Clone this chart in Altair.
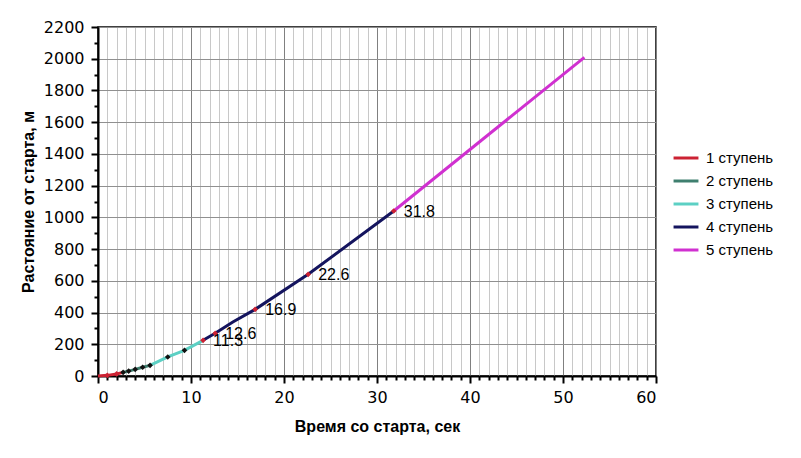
import altair as alt
import pandas as pd

stages = ["1 ступень", "2 ступень", "3 ступень", "4 ступень", "5 ступень"]
colors = ["#CC2233", "#3F7F6F", "#5CD0C4", "#14145E", "#D030D0"]

t1 = [0, 1.0, 2.0, 2.7]
d1 = [0, 4, 13, 23]
t2 = [2.7, 3.3, 4.0, 4.8, 5.6]
d2 = [23, 31, 42, 55, 67]
t3 = [5.6, 7.5, 9.3, 11.3]
d3 = [67, 120, 162, 225]
t4 = [11.3, 12.6, 14.5, 16.9, 22.6, 31.8]
d4 = [225, 269, 340, 420, 641, 1040]
t5 = [31.8, 52.3]
d5 = [1040, 2009]

# markers
m_t = [1.0, 2.0, 2.7, 3.3, 4.0, 4.8, 5.6, 7.5, 9.3, 11.3, 12.6, 16.9, 22.6, 31.8]
m_d = [4, 13, 23, 31, 42, 55, 67, 120, 162, 225, 269, 420, 641, 1040]
m_c = ["#CC2233", "#CC2233", "#111111", "#111111", "#111111", "#111111", "#111111",
       "#111111", "#111111", "#CC2233", "#CC2233", "#CC2233", "#CC2233", "#CC2233"]

lab_t = [11.3, 12.6, 16.9, 22.6, 31.8]
lab_d = [225, 269, 420, 641, 1040]
lab_txt = ["11.3", "12.6", "16.9", "22.6", "31.8"]

x_all = list(range(0, 61, 1))
y_all = list(range(0, 2201, 100))

rows = []
for s, ts, ds in zip(stages, [t1, t2, t3, t4, t5], [d1, d2, d3, d4, d5]):
    for i, (t, d) in enumerate(zip(ts, ds)):
        rows.append({"stage": s, "t": t, "d": d, "o": i})
lines_df = pd.DataFrame(rows)
marks_df = pd.DataFrame({"t": m_t, "d": m_d, "c": m_c})
labels_df = pd.DataFrame({"t": lab_t, "d": lab_d, "txt": lab_txt})

FONT = "Liberation Sans"
TICKFONT = "DejaVu Sans"

xscale = alt.Scale(domain=[0, 60], nice=False)
yscale = alt.Scale(domain=[0, 2200], nice=False)

xaxis = alt.Axis(
    values=x_all,
    labelExpr="datum.value % 10 === 0 ? datum.label : ''",
    labelOverlap=False,
    title="Время со старта, сек",
    titleFont=FONT, titleFontSize=16, titleFontWeight="bold", titleColor="#000",
    titlePadding=13,
    labelFont=TICKFONT, labelFontSize=16, labelColor="#000", labelPadding=6,
    domainColor="#000", domainWidth=2,
    tickColor="#000", tickWidth=2,
    tickSize={"condition": {"test": "datum.value % 10 === 0", "value": 7}, "value": 4},
    gridColor={"condition": {"test": "datum.value % 10 === 0", "value": "#808080"}, "value": "#C8C8C8"},
    gridWidth=1,
)
yaxis = alt.Axis(
    values=y_all,
    labelExpr="datum.value % 200 === 0 ? datum.label : ''",
    labelOverlap=False,
    format="d",
    title="Растояние от старта, м",
    titleFont=FONT, titleFontSize=16, titleFontWeight="bold", titleColor="#000",
    titlePadding=7,
    labelFont=TICKFONT, labelFontSize=16, labelColor="#000", labelPadding=7,
    domainColor="#000", domainWidth=2,
    tickColor="#000", tickWidth=2,
    tickSize={"condition": {"test": "datum.value % 200 === 0", "value": 7}, "value": 4},
    gridColor="#909090",
    gridOpacity={"condition": {"test": "datum.value % 200 === 0", "value": 1}, "value": 0},
    gridWidth=1,
)

X = alt.X("t:Q", scale=xscale, axis=xaxis)
Y = alt.Y("d:Q", scale=yscale, axis=yaxis)

lines = alt.Chart(lines_df).mark_line(strokeWidth=3).encode(
    x=X,
    y=Y,
    color=alt.Color(
        "stage:N",
        scale=alt.Scale(domain=stages, range=colors),
        legend=alt.Legend(
            title=None, orient="none", legendX=574, legendY=117,
            symbolType="stroke", symbolSize=620, symbolStrokeWidth=3,
            labelFont=FONT, labelFontSize=15, labelColor="#000",
            rowPadding=1, labelOffset=6,
        ),
    ),
    order="o:Q",
    detail="stage:N",
)

points = alt.Chart(marks_df).mark_point(shape="diamond", filled=True, size=32, opacity=1).encode(
    x=X,
    y=Y,
    color=alt.Color("c:N", scale=None),
)

labels = alt.Chart(labels_df).mark_text(
    align="left", baseline="middle", dx=10, dy=1, font=FONT, fontSize=16, color="#000"
).encode(
    x=X,
    y=Y,
    text="txt:N",
)

chart = alt.layer(lines, points, labels).properties(
    width=558, height=349,
    autosize=alt.AutoSizeParams(type="none"),
    padding={"left": 90, "top": 19, "right": 135, "bottom": 74},
    background="white",
).configure_view(stroke="#000", strokeWidth=1.5)

chart.save("out.html", embed_options={"renderer": "svg", "actions": False})
